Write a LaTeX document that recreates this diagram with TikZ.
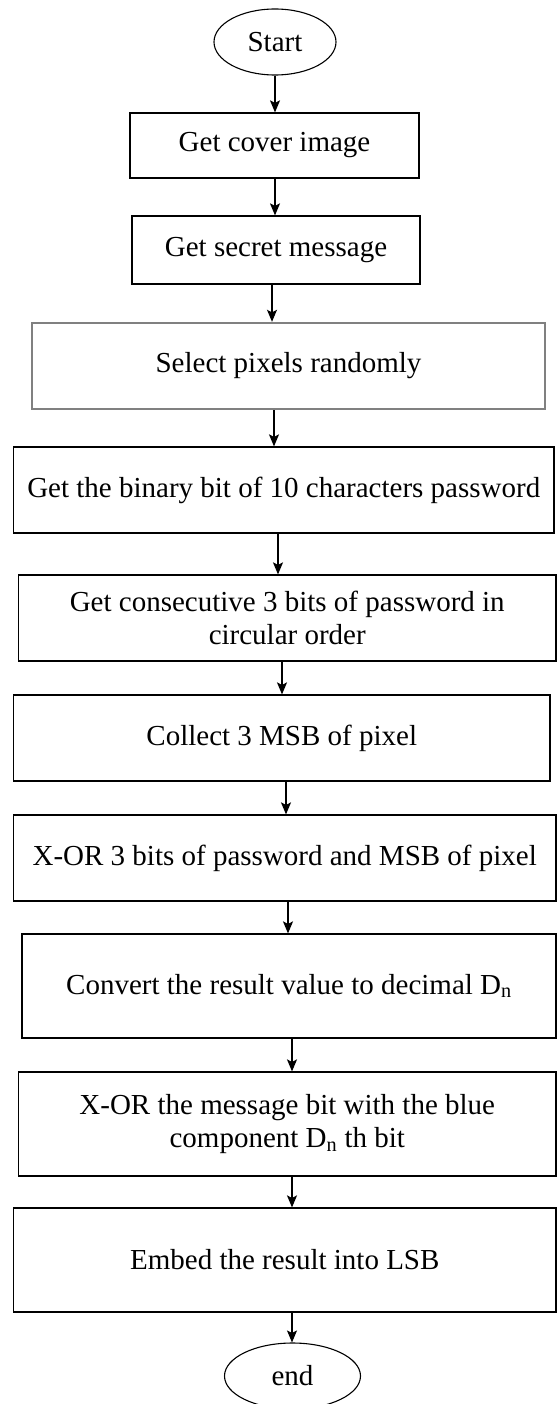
\documentclass[tikz,border=0pt]{standalone}
\usepackage{fontspec}
\setmainfont{Liberation Serif}
\usetikzlibrary{shapes.geometric,arrows.meta}
\begin{document}
\begin{tikzpicture}[x=1pt,y=-1pt,
  every node/.style={font=\fontsize{29}{33}\selectfont, inner sep=0pt, align=center},
  procbox/.style={draw=black, line width=1.2pt, rectangle},
  graybox/.style={draw=black!50, line width=2.4pt, rectangle},
  termnode/.style={draw=black, line width=1.1pt, ellipse},
  arr/.style={line width=1.2pt, -{Stealth[length=12pt,width=10pt,inset=2.5pt]}}]
\useasboundingbox (0,0) rectangle (557,1404);

\node[termnode, minimum width=122pt, minimum height=66pt] (start) at (275,42) {Start};
\node[procbox, minimum width=289pt, minimum height=65pt] (b1) at (274.5,145.5) {Get cover image};
\node[procbox, minimum width=288pt, minimum height=68pt] (b2) at (276,250) {Get secret message};
\node[graybox, minimum width=513pt, minimum height=86pt] (b3) at (288.5,366) {Select pixels randomly};
\node[procbox, minimum width=540.5pt, minimum height=86pt] (b4) at (283.75,490) {Get the binary bit of 10 characters password};
\node[procbox, minimum width=537.5pt, minimum height=86pt] (b5) at (287.25,618) {Get consecutive 3 bits of password in\\circular order};
\node[procbox, minimum width=536.5pt, minimum height=86pt] (b6) at (281.75,738) {Collect 3 MSB of pixel};
\node[procbox, minimum width=542.5pt, minimum height=86pt] (b7) at (284.75,858) {X-OR 3 bits of password and MSB of pixel};
\node[procbox, minimum width=534pt, minimum height=104pt] (b8) at (289,986) {Convert the result value to decimal D\textsubscript{n}};
\node[procbox, minimum width=537.5pt, minimum height=104pt] (b9) at (287.25,1124) {X-OR the message bit with the blue\\component D\textsubscript{n} th bit};
\node[procbox, minimum width=542.5pt, minimum height=104pt] (b10) at (284.75,1260) {Embed the result into LSB};
\node[termnode, minimum width=136pt, minimum height=66pt] (end) at (292.5,1376) {end};

\coordinate (xa) at (275,0);
\coordinate (xb) at (272,0);
\coordinate (xc) at (274,0);
\coordinate (xd) at (278,0);
\coordinate (xe) at (282,0);
\coordinate (xf) at (286,0);
\coordinate (xg) at (288,0);
\coordinate (xh) at (292,0);

\draw[arr] (start.south -| xa) -- (b1.north -| xa);
\draw[arr] (b1.south -| xa) -- (b2.north -| xa);
\draw[arr] (b2.south -| xb) -- (b3.north -| xb);
\draw[arr] (b3.south -| xc) -- (b4.north -| xc);
\draw[arr] (b4.south -| xd) -- (b5.north -| xd);
\draw[arr] (b5.south -| xe) -- (b6.north -| xe);
\draw[arr] (b6.south -| xf) -- (b7.north -| xf);
\draw[arr] (b7.south -| xg) -- (b8.north -| xg);
\draw[arr] (b8.south -| xh) -- (b9.north -| xh);
\draw[arr] (b9.south -| xh) -- (b10.north -| xh);
\draw[arr] (b10.south -| xh) -- (end.north -| xh);
\end{tikzpicture}
\end{document}
